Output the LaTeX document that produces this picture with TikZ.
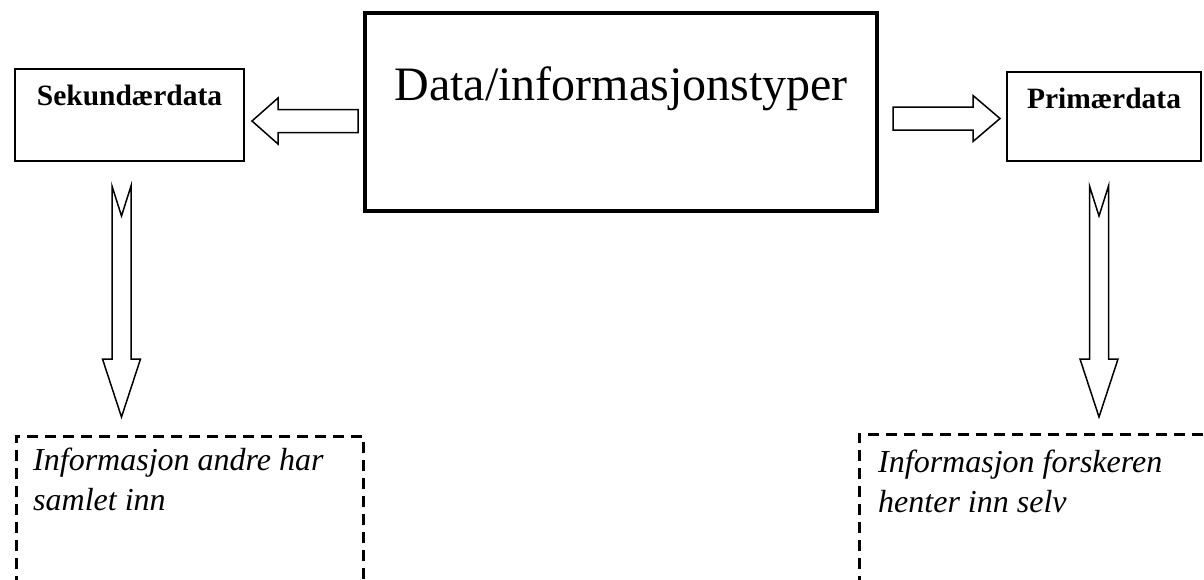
\documentclass[tikz,border=0pt]{standalone}
\usepackage{fontspec}
\setmainfont{Liberation Serif}
\usetikzlibrary{calc}

\tikzset{
	mainbox/.style={draw, line width=4pt, minimum width=512pt, minimum height=198pt,
		font=\fontsize{48}{58}\selectfont, text height=33pt, text depth=57pt},
	databox/.style={draw, line width=2pt, font=\bfseries\fontsize{29.5}{35}\selectfont,
		text height=20pt},
	infobox/.style={draw, dashed, dash pattern=on 11pt off 7pt, line width=2.5pt,
		anchor=north west, minimum height=300pt},
	infotext/.style={anchor=north west, inner sep=0pt, align=left,
		font=\itshape\fontsize{32}{40}\selectfont},
	hollow/.style={draw, line width=1.5pt, fill=white, line join=miter}
}

\begin{document}
\begin{tikzpicture}[x=1pt, y=-1pt]
	\useasboundingbox (0, 0) rectangle (1204, 579);
	\clip (0, 0) rectangle (1204, 579);
	% boxes
	\node[mainbox] (typer) at (621, 112) {Data/informasjonstyper};
	\node[databox, minimum width=229pt, minimum height=92pt, text depth=40pt]
		(sek) at (129.5, 115) {Sekundærdata};
	\node[databox, minimum width=194pt, minimum height=89pt, text depth=37pt]
		(prim) at (1104, 116.5) {Primærdata};
	\node[infobox, minimum width=347pt] (sekinfo) at (15, 435) {};
	\node[infobox, minimum width=400pt] (priminfo) at (858, 433) {};
	\node[infotext] (sektext) at (33, 448) {Informasjon andre har\\samlet inn};
	\node[infotext] (primtext) at (878, 450) {Informasjon forskeren\\henter inn selv};
	% arrows
	\coordinate (sekin) at (252, 121);
	\coordinate (primin) at (1000, 118.5);
	\coordinate (sekdown) at (121.5, 417);
	\coordinate (primdown) at (1099, 417);
	\draw[hollow] (sekin) -- ++(26, -23) -- ++(0, 11.5) -- ++(80, 0)
		-- ++(0, 23) -- ++(-80, 0) -- ++(0, 11.5) -- cycle;
	\draw[hollow] (primin) -- ++(-27, -23) -- ++(0, 11.5) -- ++(-80, 0)
		-- ++(0, 23) -- ++(80, 0) -- ++(0, 11.5) -- cycle;
	\foreach \t in {sekdown, primdown}
		\draw[hollow] (\t) -- ++(-19, -58) -- ++(9.5, 0) -- ++(0, -173)
			-- ++(9.5, 30) -- ++(9.5, -30) -- ++(0, 173) -- ++(9.5, 0) -- cycle;
\end{tikzpicture}
\end{document}
